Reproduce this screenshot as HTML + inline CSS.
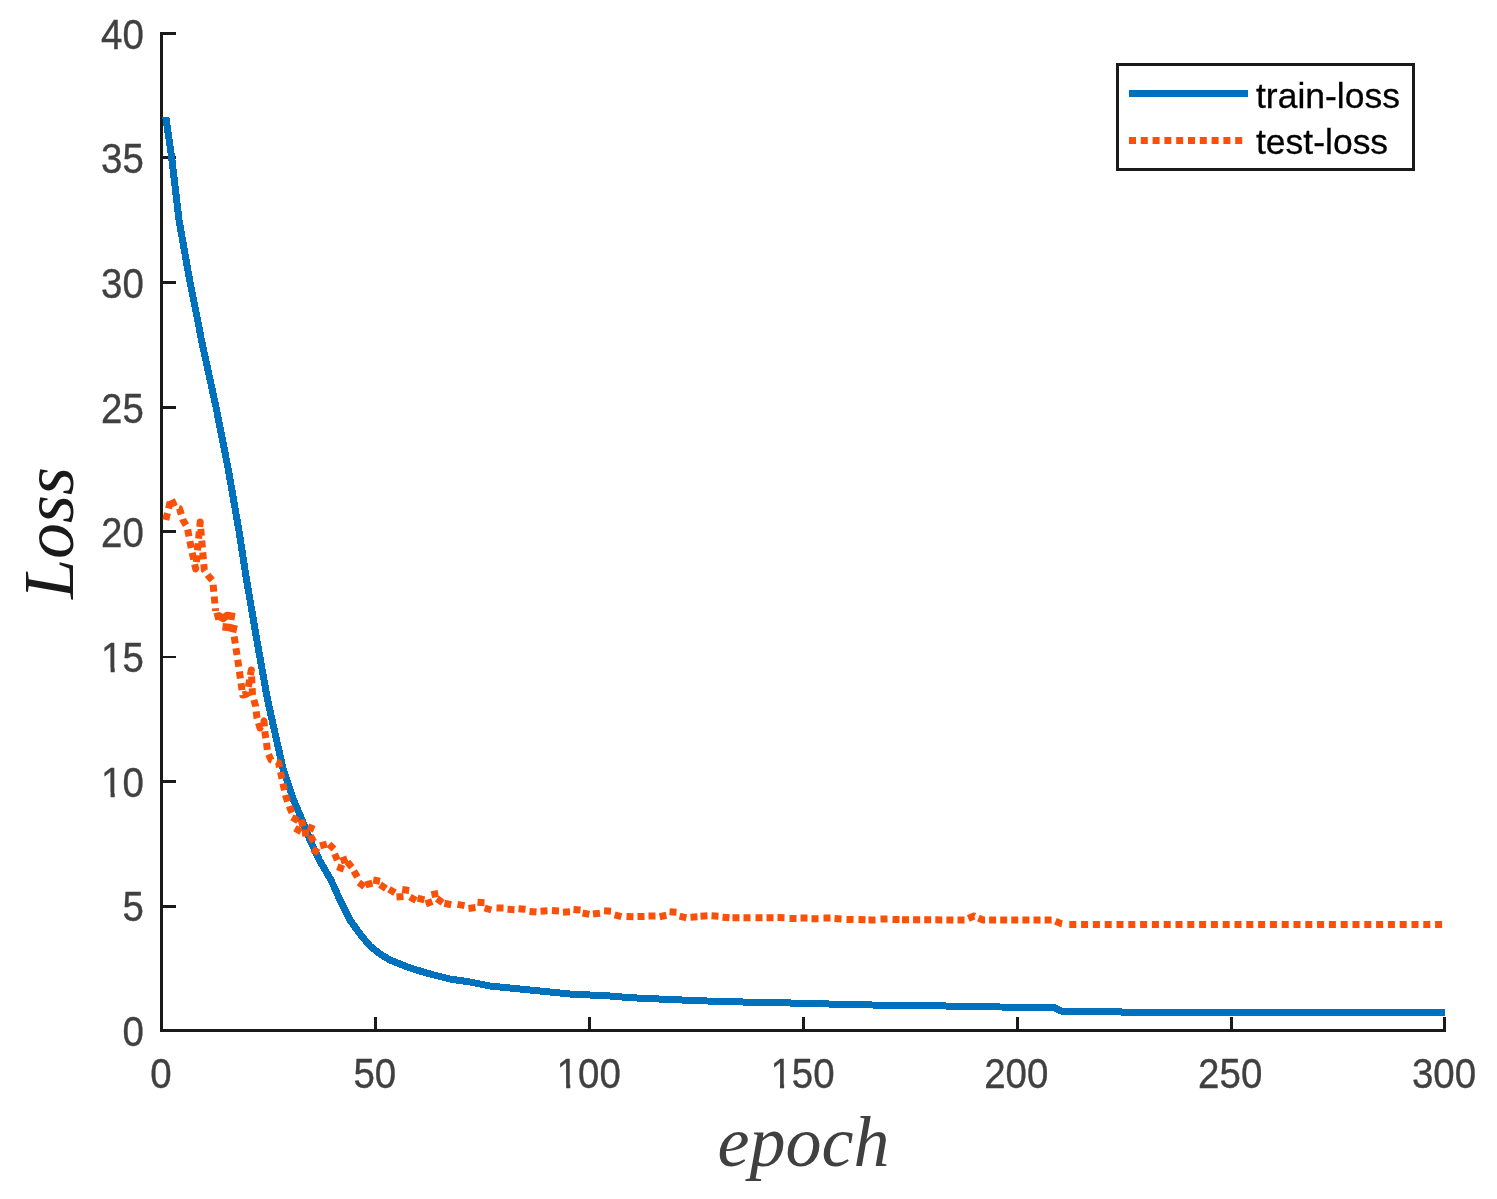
<!DOCTYPE html>
<html lang="en"><head><meta charset="utf-8"><title>Loss vs epoch</title>
<style>html,body{margin:0;padding:0;background:#fff}body{width:1497px;height:1199px;overflow:hidden}svg{display:block}</style>
</head><body>
<svg width="1497" height="1199" viewBox="0 0 1497 1199">
<rect width="1497" height="1199" fill="#fff"/>
<g fill="#1a1a1a" shape-rendering="crispEdges">
<rect x="160" y="32" width="3" height="1000"/>
<rect x="160" y="1029" width="1286" height="3"/>
<rect x="160" y="1017" width="3" height="13"/>
<rect x="374" y="1017" width="3" height="13"/>
<rect x="588" y="1017" width="3" height="13"/>
<rect x="802" y="1017" width="3" height="13"/>
<rect x="1016" y="1017" width="3" height="13"/>
<rect x="1230" y="1017" width="3" height="13"/>
<rect x="1443" y="1017" width="3" height="13"/>
<rect x="162" y="1029" width="14" height="3"/>
<rect x="162" y="905" width="14" height="3"/>
<rect x="162" y="780" width="14" height="3"/>
<rect x="162" y="656" width="14" height="2"/>
<rect x="162" y="530" width="14" height="3"/>
<rect x="162" y="406" width="14" height="3"/>
<rect x="162" y="281" width="14" height="3"/>
<rect x="162" y="156" width="14" height="3"/>
<rect x="162" y="32" width="14" height="3"/>
</g>
<path d="M165.8 117.0 L171.6 157.0 L179.0 220.0 L190.0 282.0 L199.6 330.0 L201.0 338.0 L216.0 407.0 L228.4 470.0 L239.0 531.0 L245.0 570.0 L246.6 580.0 L256.8 640.0 L267.6 700.0 L283.3 770.0 L293.6 800.0 L300.0 815.0 L310.0 840.0 L319.3 860.0 L331.0 880.0 L340.0 900.0 L350.0 920.0 L360.0 934.0 L370.0 946.0 L380.0 954.0 L390.0 960.0 L410.0 968.0 L430.0 974.0 L450.0 979.0 L470.0 982.0 L490.0 986.0 L510.0 988.0 L530.0 990.0 L550.0 992.0 L570.0 994.0 L590.0 995.0 L610.0 996.0 L630.0 997.7 L650.0 998.6 L700.0 1000.8 L750.0 1002.2 L800.0 1003.2 L850.0 1004.6 L900.0 1005.5 L940.0 1005.9 L1000.0 1007.0 L1054.0 1007.5 L1062.0 1011.3 L1100.0 1011.9 L1180.0 1012.3 L1445.0 1012.3" fill="none" stroke="#0072bd" stroke-width="7" stroke-linejoin="round" shape-rendering="crispEdges"/>
<path d="M165.8 520.0 L171.0 498.5 L175.0 507.0 L179.5 508.5 L183.0 520.0 L187.2 527.0 L191.4 549.0 L195.7 569.0 L200.2 522.0 L204.3 570.0 L208.5 576.0 L212.8 581.0 L215.6 611.0" fill="none" stroke="#f9500a" stroke-width="7" stroke-linejoin="round" stroke-dasharray="7 4.8"/>
<path d="M234.2 636.5 L238.5 665.0 L242.7 695.0 L247.0 694.0 L251.3 670.0 L252.5 695.0 L255.6 706.0 L257.0 718.0 L260.0 728.0 L264.0 721.0 L265.0 733.0 L266.3 741.0 L267.6 752.0 L271.0 760.0 L278.5 762.5 L281.0 774.0 L283.5 786.0 L286.0 797.0 L290.0 808.0 L293.0 815.0" fill="none" stroke="#f9500a" stroke-width="7" stroke-linejoin="round" stroke-dasharray="7 4.8"/>
<path d="M214.5 617.0 L219.0 615.8 L223.0 618.5 L227.0 615.5 L235.0 616.8 M222.5 626.8 L229.0 627.5 L237.0 629.5" fill="none" stroke="#f9500a" stroke-width="7.5" stroke-linejoin="round"/>
<path d="M292.0 817.3 L298.0 820.7 M301.1 819.6 L302.9 826.4 M294.9 828.3 L301.1 831.7 M307.8 826.7 L314.2 829.3 M305.2 829.5 L305.8 836.5 M310.3 835.6 L313.7 841.8 M312.4 849.3 L318.6 852.7 M320.1 845.9 L326.9 844.1 M329.0 844.2 L334.0 849.0 M334.6 853.8 L337.4 860.2 M337.3 866.8 L343.9 869.2 M340.7 861.2 L347.3 858.8 M347.4 861.9 L351.8 867.3 M353.8 871.0 L357.4 877.0 M358.8 882.5 L364.4 886.7 M365.6 884.9 L372.4 883.1 M373.2 880.0 L380.0 881.2 M380.1 884.6 L385.9 888.6 M389.0 889.2 L395.0 892.8 M396.5 897.0 L403.5 896.4 M402.2 889.5 L409.2 890.5 M410.0 896.9 L416.0 900.5 M417.6 898.2 L424.4 899.8 M425.7 903.9 L432.3 901.5 M431.4 894.6 L438.2 893.4 M437.0 898.6 L442.6 902.8 M444.4 903.3 L451.2 904.7 M457.5 904.4 L464.5 905.6 M468.5 908.4 L475.5 907.6 M477.5 902.3 L484.5 902.7 M484.6 908.0 L491.4 910.0 M496.5 907.9 L503.5 908.1 M507.5 909.3 L514.5 909.7 M518.5 908.7 L525.5 909.3 M529.5 911.4 L536.5 912.0 M540.5 911.2 L547.5 910.8 M552.0 910.5 L559.0 910.9 M563.0 912.2 L570.0 911.8 M573.5 909.4 L580.5 910.0 M582.6 913.0 L589.4 914.4 M593.0 914.1 L600.0 913.3 M604.0 910.7 L611.0 911.3 M614.6 914.8 L621.4 916.6 M626.5 916.6 L633.5 916.8 M637.5 916.6 L644.5 916.4 M648.5 916.1 L655.5 915.9 M659.6 916.7 L666.4 915.3 M669.5 911.8 L676.5 912.2 M679.6 916.2 L686.4 917.8 M690.5 917.2 L697.5 916.8 M700.5 916.2 L707.5 915.8 M711.5 915.8 L718.5 916.2 M722.5 917.2 L729.5 917.8 M732.5 917.7 L739.5 917.7 M743.5 917.7 L750.5 917.7 M755.5 917.7 L762.5 917.7 M766.5 917.7 L773.5 917.7 M777.5 917.6 L784.5 917.8 M789.5 918.5 L796.5 918.5 M800.5 918.0 L807.5 918.0 M811.5 918.7 L818.5 918.7 M823.5 918.0 L830.5 918.0 M834.5 918.5 L841.5 918.9 M846.5 919.4 L853.5 919.6 M858.5 919.6 L865.5 919.8 M868.5 920.1 L875.5 919.9 M880.5 919.1 L887.5 918.9 M892.5 919.4 L899.5 919.6" fill="none" stroke="#f9500a" stroke-width="7"/>
<path d="M902.0 919.7 L965.0 920.0 L974.0 916.0 L983.0 920.0 L1052.0 920.0 L1061.0 923.5 L1066.0 924.5" fill="none" stroke="#f9500a" stroke-width="7" stroke-linejoin="round" stroke-dasharray="7 4.1"/>
<path d="M1069.3 924.5 H1442.2" fill="none" stroke="#f9500a" stroke-width="7" stroke-dasharray="7 4.8"/>
<g font-family="'Liberation Sans', Arial, sans-serif" font-size="38.5" fill="#404040" stroke="#404040" stroke-width="0.35">
<text transform="translate(161.0 1087.6) scale(1 1.085)" text-anchor="middle">0</text>
<text transform="translate(374.8 1087.6) scale(1 1.085)" text-anchor="middle">50</text>
<text transform="translate(588.7 1087.6) scale(1 1.085)" text-anchor="middle">100</text>
<text transform="translate(802.5 1087.6) scale(1 1.085)" text-anchor="middle">150</text>
<text transform="translate(1016.3 1087.6) scale(1 1.085)" text-anchor="middle">200</text>
<text transform="translate(1230.2 1087.6) scale(1 1.085)" text-anchor="middle">250</text>
<text transform="translate(1444.0 1087.6) scale(1 1.085)" text-anchor="middle">300</text>
<text transform="translate(143.8 1045.8) scale(1 1.085)" text-anchor="end">0</text>
<text transform="translate(143.8 921.2) scale(1 1.085)" text-anchor="end">5</text>
<text transform="translate(143.8 796.5) scale(1 1.085)" text-anchor="end">10</text>
<text transform="translate(143.8 671.9) scale(1 1.085)" text-anchor="end">15</text>
<text transform="translate(143.8 547.3) scale(1 1.085)" text-anchor="end">20</text>
<text transform="translate(143.8 422.7) scale(1 1.085)" text-anchor="end">25</text>
<text transform="translate(143.8 298.1) scale(1 1.085)" text-anchor="end">30</text>
<text transform="translate(143.8 173.4) scale(1 1.085)" text-anchor="end">35</text>
<text transform="translate(143.8 48.8) scale(1 1.085)" text-anchor="end">40</text>
</g>
<rect x="558.25" y="1083.45" width="7.9" height="6" fill="#fff"/>
<rect x="570.30" y="1083.45" width="7.5" height="6" fill="#fff"/>
<rect x="772.09" y="1083.45" width="7.9" height="6" fill="#fff"/>
<rect x="784.14" y="1083.45" width="7.5" height="6" fill="#fff"/>
<rect x="102.68" y="792.40" width="7.9" height="6" fill="#fff"/>
<rect x="114.73" y="792.40" width="7.5" height="6" fill="#fff"/>
<rect x="102.68" y="667.77" width="7.9" height="6" fill="#fff"/>
<rect x="114.73" y="667.77" width="7.5" height="6" fill="#fff"/>
<g font-family="'Liberation Serif', 'Times New Roman', serif" font-style="italic" font-size="72">
<text x="803.5" y="1166" text-anchor="middle" fill="#404040">epoch</text>
<text transform="translate(72.8 533) rotate(-90)" text-anchor="middle" fill="#1a1a1a">Loss</text>
</g>
<rect x="1117.5" y="64.5" width="296" height="105" fill="#fff" stroke="#1a1a1a" stroke-width="3" shape-rendering="crispEdges"/>
<rect x="1129" y="90" width="119" height="7" fill="#0072bd"/>
<path d="M1129 140.5 H1243" stroke="#f9500a" stroke-width="7" stroke-dasharray="7 4.8" fill="none"/>
<g font-family="'Liberation Sans', Arial, sans-serif" font-size="35.5" fill="#000">
<text transform="translate(1256 108.1) scale(1 0.985)" stroke="#000" stroke-width="0.3">train-loss</text>
<text transform="translate(1256 154.1) scale(1 0.985)" stroke="#000" stroke-width="0.3">test-loss</text>
</g>
</svg>
</body></html>
